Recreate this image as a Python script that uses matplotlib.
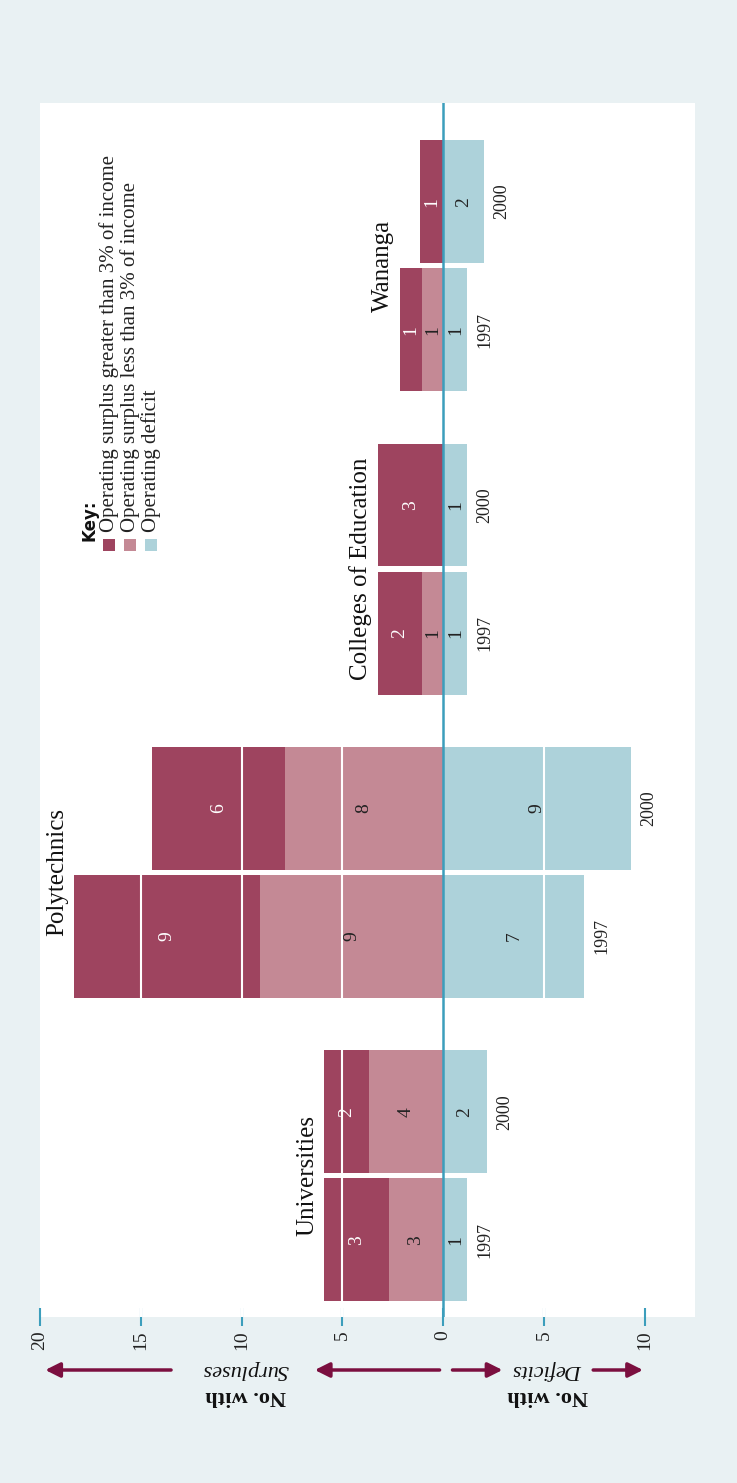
import numpy as np
import matplotlib.pyplot as plt
from matplotlib.transforms import blended_transform_factory
from matplotlib.patches import Rectangle

plt.rcParams['font.family'] = ['Liberation Serif', 'DejaVu Serif']

groups = ['Universities', 'Polytechnics', 'Colleges of Education', 'Wananga']
years = ['1997', '2000']

# bar order: Univ 97, Univ 00, Poly 97, Poly 00, Coll 97, Coll 00, Wan 97, Wan 00
# lengths as drawn in the picture
gt3 = np.array([3.2, 2.2, 9.2, 6.6, 2.2, 3.25, 1.1, 1.15])
lt3 = np.array([2.7, 3.7, 9.1, 7.85, 1.05, 0.0, 1.05, 0.0])
deficit = np.array([1.2, 2.15, 7.0, 9.3, 1.2, 1.2, 1.2, 2.0])
# counts printed on the bars
gt3_n = [3, 2, 9, 6, 2, 3, 1, 1]
lt3_n = [3, 4, 9, 8, 1, 0, 1, 0]
def_n = [1, 2, 7, 9, 1, 1, 1, 2]

key_labels = ['Operating surplus greater than 3% of income',
              'Operating surplus less than 3% of income',
              'Operating deficit']

c_gt = '#9e445f'
c_lt = '#c48995'
c_def = '#add2da'
c_axis = '#3c9ebc'
c_arrow = '#7b0f3f'
bg = '#e9f1f3'

fig = plt.figure(figsize=(7.37, 14.83), dpi=100, facecolor=bg)
ax = fig.add_axes([0.0543, 0.1119, 0.8887, 0.8186])
ax.set_facecolor('white')

gcent = np.arange(len(groups)) * 2.37
pos = np.ravel([[g - 0.5, g + 0.5] for g in gcent])
h = 0.96

ax.barh(pos, -lt3, height=h, color=c_lt, lw=0, zorder=2)
ax.barh(pos, -gt3, left=-lt3, height=h, color=c_gt, lw=0, zorder=2)
ax.barh(pos, deficit, height=h, color=c_def, lw=0, zorder=2)

for gx in [-15, -10, -5, 5]:
    ax.axvline(gx, color='white', lw=1.5, zorder=3)
ax.axvline(0, color=c_axis, lw=1.8, zorder=4)

fs = 14
for i, p in enumerate(pos):
    if lt3_n[i]:
        ax.text(-lt3[i] / 2, p, str(lt3_n[i]), rotation=90, ha='center', va='center',
                fontsize=fs, color='#222222', zorder=5)
    ax.text(-lt3[i] - gt3[i] / 2, p, str(gt3_n[i]), rotation=90, ha='center', va='center',
            fontsize=fs, color='white', zorder=5)
    ax.text(deficit[i] / 2, p, str(def_n[i]), rotation=90, ha='center', va='center',
            fontsize=fs, color='#222222', zorder=5)
    ax.text(deficit[i] + 0.88, p, years[i % 2], rotation=90, ha='center', va='center',
            fontsize=13, color='#222222')

tot = (gt3 + lt3).reshape(-1, 2).max(axis=1)
for g, name, t in zip(gcent, groups, tot):
    ax.text(-t - 0.85, g, name, rotation=90, ha='center', va='center',
            fontsize=18, color='#111111')

# key
ax.text(-17.56, 4.96, 'Key:', rotation=90, rotation_mode='anchor', ha='left', va='center',
        fontsize=12, fontweight='bold', family='DejaVu Sans', color='#111111')
for j, (lab, col) in enumerate(zip(key_labels, [c_gt, c_lt, c_def])):
    xk = -16.57 + j * 1.04
    ax.add_patch(Rectangle((xk - 0.3, 4.88), 0.6, 0.095, color=col, lw=0))
    ax.text(xk, 5.03, lab, rotation=90, rotation_mode='anchor', ha='left', va='center',
            fontsize=15, color='#222222')

ax.set_xlim(-19.94, 12.49)
ax.set_ylim(-1.103, 8.38)
ticks = [-20, -15, -10, -5, 0, 5, 10]
ax.set_xticks(ticks)
ax.set_xticklabels([str(abs(t)) for t in ticks], rotation=90, fontsize=14, color='#222222')
ax.set_yticks([])
ax.tick_params(axis='x', direction='inout', length=13, width=1.5, color=c_axis, pad=3)
for s in ax.spines.values():
    s.set_visible(False)

# axis titles under the ticks
tr = blended_transform_factory(ax.transData, fig.transFigure)
y_arr = (1483 - 1370) / 1483
y_no = (1483 - 1396) / 1483
for xc, word in [(-9.8, 'Surpluses'), (5.2, 'Deficits')]:
    ax.text(xc, y_arr, word, transform=tr, rotation=180, ha='center', va='center',
            fontsize=16, style='italic', color='#111111')
    ax.text(xc, y_no, 'No. with', transform=tr, rotation=180, ha='center', va='center',
            fontsize=16, fontweight='bold', color='#111111')
for x0, x1 in [(-13.5, -19.74), (-0.18, -6.37), (0.46, 2.94), (7.44, 9.91)]:
    ax.annotate('', xy=(x1, y_arr), xytext=(x0, y_arr), xycoords=tr, textcoords=tr,
                arrowprops=dict(arrowstyle='-|>', color=c_arrow, lw=2.5, mutation_scale=22,
                                shrinkA=0, shrinkB=0))

fig.savefig('out.png', dpi=100, facecolor=bg)
